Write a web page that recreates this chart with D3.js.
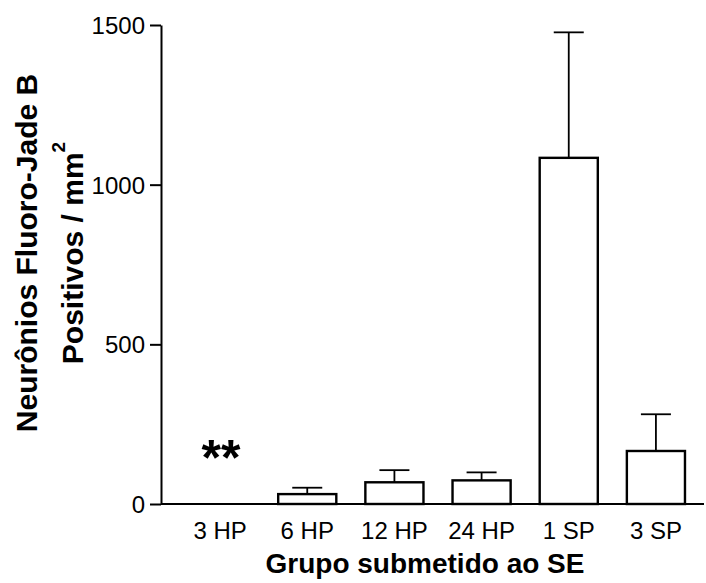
<!DOCTYPE html>
<html>
<head>
<meta charset="utf-8">
<script src="https://cdn.jsdelivr.net/npm/d3@7"></script>
<style>
  body { margin: 0; background: #fff; }
  svg { display: block; font-family: "Liberation Sans", Arial, sans-serif; }
  .tick text { font-size: 24px; fill: #000; }
  .title { font-weight: bold; font-size: 30px; fill: #000; }
</style>
</head>
<body>
<div id="chart"></div>
<script>
// data
var groups = ["3 HP", "6 HP", "12 HP", "24 HP", "1 SP", "3 SP"];
var means = [0, 31, 68, 74, 1084, 166];
var sem = [0, 20, 38, 25, 393, 115];
var marks = ["**", "", "", "", "", ""];
var yTicks = [0, 500, 1000, 1500];

var width = 706,
    height = 583;

var svg = d3.select("#chart")
  .append("svg")
    .attr("width", width)
    .attr("height", height);

var y = d3.scaleLinear()
  .domain([0, 1500])
  .range([504, 25]);

var x = d3.scaleBand()
  .domain(groups)
  .range([176.5, 699.5])
  .paddingInner(1 / 3)
  .paddingOuter(1 / 6);

var rows = groups.map(function(g, i) {
  return { group: g, mean: means[i], err: sem[i], mark: marks[i] };
});

// bars
svg.selectAll(".bar")
  .data(rows.filter(function(d) { return d.mean > 0; }))
  .enter()
  .append("rect")
    .attr("class", "bar")
    .attr("x", function(d) { return x(d.group); })
    .attr("y", function(d) { return y(d.mean); })
    .attr("width", x.bandwidth())
    .attr("height", function(d) { return y(0) - y(d.mean); })
    .style("fill", "#fff")
    .style("stroke", "#000")
    .style("stroke-width", 2.4);

// error bars (upper only)
var capW = 30;
var err = svg.selectAll(".err")
  .data(rows.filter(function(d) { return d.err > 0; }))
  .enter()
  .append("g")
    .attr("class", "err")
    .style("stroke", "#000")
    .style("stroke-width", 1.8);

err.append("line")
  .attr("x1", function(d) { return x(d.group) + x.bandwidth() / 2; })
  .attr("x2", function(d) { return x(d.group) + x.bandwidth() / 2; })
  .attr("y1", function(d) { return y(d.mean); })
  .attr("y2", function(d) { return y(d.mean + d.err); });

err.append("line")
  .attr("x1", function(d) { return x(d.group) + x.bandwidth() / 2 - capW / 2; })
  .attr("x2", function(d) { return x(d.group) + x.bandwidth() / 2 + capW / 2; })
  .attr("y1", function(d) { return y(d.mean + d.err); })
  .attr("y2", function(d) { return y(d.mean + d.err); });

// significance marks
svg.selectAll(".mark")
  .data(rows.filter(function(d) { return d.mark; }))
  .enter()
  .append("text")
    .attr("class", "mark")
    .attr("x", function(d) { return x(d.group) + x.bandwidth() / 2 + 1; })
    .attr("y", 475)
    .attr("text-anchor", "middle")
    .style("font-size", "50px")
    .style("font-weight", "bold")
    .text(function(d) { return d.mark; });

// y axis
var yAxis = svg.append("g")
  .attr("transform", "translate(161,0)")
  .call(d3.axisLeft(y).tickValues(yTicks).tickFormat(d3.format("d"))
    .tickSize(11).tickSizeOuter(0).tickPadding(5));
yAxis.selectAll("path, line").style("stroke", "#000").style("stroke-width", 2);
yAxis.selectAll("text").attr("dy", "0.36em");

// x axis: baseline plus labels
svg.append("line")
  .attr("x1", 161)
  .attr("x2", 704)
  .attr("y1", y(0))
  .attr("y2", y(0))
  .style("stroke", "#000")
  .style("stroke-width", 2);

var xAxis = svg.append("g")
  .attr("transform", "translate(0," + y(0) + ")")
  .call(d3.axisBottom(x).tickSize(0).tickPadding(18));
xAxis.select(".domain").remove();

// titles
svg.append("text")
  .attr("class", "title")
  .attr("x", 425)
  .attr("y", 573)
  .attr("text-anchor", "middle")
  .style("font-size", "28px")
  .text("Grupo submetido ao SE");

var yTitle = svg.append("g")
  .attr("transform", "translate(0,253) rotate(-90)");

yTitle.append("text")
  .attr("class", "title")
  .attr("x", 0)
  .attr("y", 37)
  .attr("text-anchor", "middle")
  .text("Neurônios Fluoro-Jade B");

var line2 = yTitle.append("text")
  .attr("class", "title")
  .attr("x", 0)
  .attr("y", 83)
  .attr("text-anchor", "middle");
line2.append("tspan").text("Positivos / mm");
line2.append("tspan")
  .attr("dy", -18)
  .style("font-size", "19px")
  .text("2");
</script>
</body>
</html>
